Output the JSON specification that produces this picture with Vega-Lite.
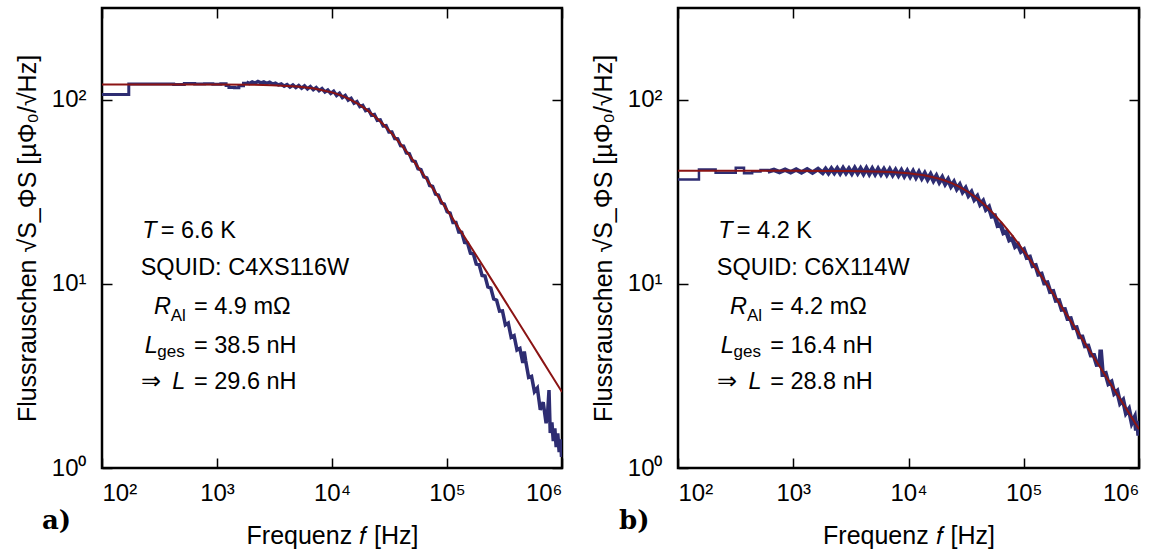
{
  "$schema": "https://vega.github.io/schema/vega-lite/v6.json",
  "padding": {"left": 14, "top": 6, "right": 0, "bottom": 0},
  "background": "white",
  "bounds": "flush",
  "spacing": 116,
  "config": {
    "view": {"stroke": "black", "strokeWidth": 2.5},
    "font": "Liberation Sans",
    "axis": {
      "domain": false,
      "grid": false,
      "ticks": true,
      "tickColor": "black",
      "tickWidth": 1.5,
      "tickSize": -10,
      "labelFont": "Liberation Sans",
      "labelFontSize": 24,
      "labelColor": "black",
      "titleFont": "Liberation Sans",
      "titleFontSize": 25,
      "titleFontWeight": "normal",
      "titleColor": "black"
    }
  },
  "datasets": {
    "steps": [
      {"panel":"a","f":100,"v":107},{"panel":"a","f":171,"v":122},{"panel":"a","f":420,"v":121.5},{"panel":"a","f":520,"v":122.8},{"panel":"a","f":640,"v":122},{"panel":"a","f":780,"v":122.6},{"panel":"a","f":920,"v":121.8},{"panel":"a","f":1080,"v":122.5},{"panel":"a","f":1200,"v":120},{"panel":"a","f":1270,"v":117},{"panel":"a","f":1420,"v":116.5},{"panel":"a","f":1550,"v":119.5},{"panel":"a","f":1700,"v":123.5},{"panel":"a","f":1800,"v":125},
      {"panel":"b","f":100,"v":37},{"panel":"b","f":152,"v":41.9},{"panel":"b","f":212,"v":40.2},{"panel":"b","f":317,"v":42.8},{"panel":"b","f":374,"v":40},{"panel":"b","f":440,"v":40.9},{"panel":"b","f":520,"v":41.6},{"panel":"b","f":600,"v":40.8}
    ],
    "noise": [
      {"panel":"a","f":1800,"v":125},{"panel":"a","f":1908,"v":123},{"panel":"a","f":2022,"v":125.3},{"panel":"a","f":2144,"v":123.5},{"panel":"a","f":2272,"v":126.2},{"panel":"a","f":2409,"v":124},{"panel":"a","f":2553,"v":125.5},{"panel":"a","f":2706,"v":123},{"panel":"a","f":2869,"v":124.8},{"panel":"a","f":3041,"v":122},{"panel":"a","f":3223,"v":123.5},{"panel":"a","f":3417,"v":120.8},{"panel":"a","f":3622,"v":122.2},{"panel":"a","f":3839,"v":119},{"panel":"a","f":4069,"v":121.2},{"panel":"a","f":4313,"v":117.6},{"panel":"a","f":4572,"v":120.6},{"panel":"a","f":4847,"v":116.8},{"panel":"a","f":5137,"v":120},{"panel":"a","f":5446,"v":115.9},{"panel":"a","f":5772,"v":119.3},{"panel":"a","f":6119,"v":114.9},{"panel":"a","f":6486,"v":118.2},{"panel":"a","f":6875,"v":113.8},{"panel":"a","f":7288,"v":116.8},{"panel":"a","f":7725,"v":112.3},{"panel":"a","f":8188,"v":115.2},{"panel":"a","f":8680,"v":110.5},{"panel":"a","f":9200,"v":113.3},{"panel":"a","f":9752,"v":108.6},{"panel":"a","f":10337,"v":111.5},{"panel":"a","f":10958,"v":105.9},{"panel":"a","f":11615,"v":108.8},{"panel":"a","f":12312,"v":103.1},{"panel":"a","f":13051,"v":105.7},{"panel":"a","f":13834,"v":99.9},{"panel":"a","f":14664,"v":102.1},{"panel":"a","f":15544,"v":96.1},{"panel":"a","f":16476,"v":98},{"panel":"a","f":17465,"v":92.1},{"panel":"a","f":18513,"v":93.5},{"panel":"a","f":19624,"v":87.5},{"panel":"a","f":20801,"v":88.6},{"panel":"a","f":22049,"v":82.7},{"panel":"a","f":23372,"v":83.4},{"panel":"a","f":24775,"v":77.6},{"panel":"a","f":26261,"v":78},{"panel":"a","f":27837,"v":72.3},{"panel":"a","f":29507,"v":72.5},{"panel":"a","f":31277,"v":67},{"panel":"a","f":33154,"v":67},{"panel":"a","f":35143,"v":61.7},{"panel":"a","f":37252,"v":61.5},{"panel":"a","f":39487,"v":56.5},{"panel":"a","f":41856,"v":56.2},{"panel":"a","f":44367,"v":51.5},{"panel":"a","f":47029,"v":51.1},{"panel":"a","f":49851,"v":46.7},{"panel":"a","f":52842,"v":46.3},{"panel":"a","f":56013,"v":42.3},{"panel":"a","f":59373,"v":41.8},{"panel":"a","f":62936,"v":38.2},{"panel":"a","f":66712,"v":37.7},{"panel":"a","f":70715,"v":34.3},{"panel":"a","f":74958,"v":33.9},{"panel":"a","f":79455,"v":30.8},{"panel":"a","f":84222,"v":30.4},{"panel":"a","f":89276,"v":27.6},{"panel":"a","f":94632,"v":27.2},{"panel":"a","f":100310,"v":24.7},{"panel":"a","f":106329,"v":24.3},{"panel":"a","f":112709,"v":21.6},{"panel":"a","f":119471,"v":21.6},{"panel":"a","f":126640,"v":19.15},{"panel":"a","f":134238,"v":19.1},{"panel":"a","f":142292,"v":16.8},{"panel":"a","f":150830,"v":16.7},{"panel":"a","f":159880,"v":14.7},{"panel":"a","f":169473,"v":14.6},{"panel":"a","f":179641,"v":12.84},{"panel":"a","f":190419,"v":12.73},{"panel":"a","f":201845,"v":11.13},{"panel":"a","f":213955,"v":11.04},{"panel":"a","f":226793,"v":9.64},{"panel":"a","f":240400,"v":9.5},{"panel":"a","f":254824,"v":8.3},{"panel":"a","f":270114,"v":8.16},{"panel":"a","f":286320,"v":7.12},{"panel":"a","f":303500,"v":7.15},{"panel":"a","f":321710,"v":5.99},{"panel":"a","f":341012,"v":6.13},{"panel":"a","f":361473,"v":5.13},{"panel":"a","f":383161,"v":5.24},{"panel":"a","f":406150,"v":4.38},{"panel":"a","f":430519,"v":4.47},{"panel":"a","f":456350,"v":3.72},{"panel":"a","f":470000,"v":4.3},{"panel":"a","f":483731,"v":3.81},{"panel":"a","f":512755,"v":3.11},{"panel":"a","f":543520,"v":3.15},{"panel":"a","f":576131,"v":2.6},{"panel":"a","f":610699,"v":2.72},{"panel":"a","f":647341,"v":2.07},{"panel":"a","f":686181,"v":2.28},{"panel":"a","f":727352,"v":1.75},{"panel":"a","f":750000,"v":2},{"panel":"a","f":770993,"v":2.65},{"panel":"a","f":790000,"v":1.55},{"panel":"a","f":817253,"v":1.77},{"panel":"a","f":840000,"v":1.4},{"panel":"a","f":866288,"v":1.64},{"panel":"a","f":890000,"v":1.3},{"panel":"a","f":918265,"v":1.54},{"panel":"a","f":945000,"v":1.22},{"panel":"a","f":973361,"v":1.43},{"panel":"a","f":990000,"v":1.15},{"panel":"a","f":1000000,"v":1.35},
      {"panel":"b","f":600,"v":40.8},{"panel":"b","f":680,"v":41.7},{"panel":"b","f":760,"v":40.6},{"panel":"b","f":850,"v":41.8},{"panel":"b","f":950,"v":40.5},{"panel":"b","f":1060,"v":41.9},{"panel":"b","f":1180,"v":40.4},{"panel":"b","f":1320,"v":42},{"panel":"b","f":1470,"v":40.3},{"panel":"b","f":1640,"v":42.1},{"panel":"b","f":1800,"v":40.2},{"panel":"b","f":1908,"v":42.2},{"panel":"b","f":2022,"v":40.1},{"panel":"b","f":2144,"v":42.3},{"panel":"b","f":2272,"v":40.2},{"panel":"b","f":2409,"v":42.4},{"panel":"b","f":2553,"v":40},{"panel":"b","f":2706,"v":42.5},{"panel":"b","f":2869,"v":40.1},{"panel":"b","f":3041,"v":42.3},{"panel":"b","f":3223,"v":39.9},{"panel":"b","f":3417,"v":42.6},{"panel":"b","f":3622,"v":40},{"panel":"b","f":3839,"v":42.4},{"panel":"b","f":4069,"v":39.8},{"panel":"b","f":4313,"v":42.5},{"panel":"b","f":4572,"v":39.7},{"panel":"b","f":4847,"v":42.3},{"panel":"b","f":5137,"v":39.6},{"panel":"b","f":5446,"v":42.2},{"panel":"b","f":5772,"v":39.6},{"panel":"b","f":6119,"v":42},{"panel":"b","f":6486,"v":39.4},{"panel":"b","f":6875,"v":41.9},{"panel":"b","f":7288,"v":39.2},{"panel":"b","f":7725,"v":41.6},{"panel":"b","f":8188,"v":39},{"panel":"b","f":8680,"v":41.4},{"panel":"b","f":9200,"v":38.7},{"panel":"b","f":9752,"v":41.1},{"panel":"b","f":10337,"v":38.4},{"panel":"b","f":10958,"v":40.9},{"panel":"b","f":11615,"v":38},{"panel":"b","f":12312,"v":40.5},{"panel":"b","f":13051,"v":37.6},{"panel":"b","f":13834,"v":39.9},{"panel":"b","f":14664,"v":37.1},{"panel":"b","f":15544,"v":39.4},{"panel":"b","f":16476,"v":36.5},{"panel":"b","f":17465,"v":38.7},{"panel":"b","f":18513,"v":35.8},{"panel":"b","f":19624,"v":37.9},{"panel":"b","f":20801,"v":35},{"panel":"b","f":22049,"v":37},{"panel":"b","f":23372,"v":34},{"panel":"b","f":24775,"v":35.8},{"panel":"b","f":26261,"v":32.9},{"panel":"b","f":27837,"v":34.6},{"panel":"b","f":29507,"v":31.7},{"panel":"b","f":31277,"v":33.2},{"panel":"b","f":33154,"v":30.3},{"panel":"b","f":35143,"v":31.6},{"panel":"b","f":37252,"v":28.8},{"panel":"b","f":39487,"v":30},{"panel":"b","f":41856,"v":27.1},{"panel":"b","f":44367,"v":28.2},{"panel":"b","f":47029,"v":25.4},{"panel":"b","f":49851,"v":26.2},{"panel":"b","f":52842,"v":23.3},{"panel":"b","f":56013,"v":23.5},{"panel":"b","f":59373,"v":20.8},{"panel":"b","f":62936,"v":21.1},{"panel":"b","f":66712,"v":18.93},{"panel":"b","f":70715,"v":19.25},{"panel":"b","f":74958,"v":17.33},{"panel":"b","f":79455,"v":17.67},{"panel":"b","f":84222,"v":15.95},{"panel":"b","f":89276,"v":16.39},{"panel":"b","f":94632,"v":15},{"panel":"b","f":100310,"v":15.4},{"panel":"b","f":106329,"v":13.92},{"panel":"b","f":112709,"v":14.03},{"panel":"b","f":119471,"v":12.54},{"panel":"b","f":126640,"v":12.64},{"panel":"b","f":134238,"v":11.28},{"panel":"b","f":142292,"v":11.35},{"panel":"b","f":150830,"v":10.13},{"panel":"b","f":159880,"v":10.18},{"panel":"b","f":169473,"v":9.07},{"panel":"b","f":179641,"v":9.12},{"panel":"b","f":190419,"v":8.12},{"panel":"b","f":201845,"v":8.15},{"panel":"b","f":213955,"v":7.26},{"panel":"b","f":226793,"v":7.28},{"panel":"b","f":240400,"v":6.48},{"panel":"b","f":254824,"v":6.5},{"panel":"b","f":270114,"v":5.78},{"panel":"b","f":286320,"v":5.8},{"panel":"b","f":303500,"v":5.16},{"panel":"b","f":321710,"v":5.17},{"panel":"b","f":341012,"v":4.6},{"panel":"b","f":361473,"v":4.61},{"panel":"b","f":383161,"v":4.1},{"panel":"b","f":406150,"v":4.1},{"panel":"b","f":430519,"v":3.65},{"panel":"b","f":456350,"v":3.66},{"panel":"b","f":465000,"v":4.4},{"panel":"b","f":483731,"v":3.24},{"panel":"b","f":512755,"v":3.27},{"panel":"b","f":543520,"v":2.87},{"panel":"b","f":576131,"v":2.94},{"panel":"b","f":610699,"v":2.54},{"panel":"b","f":647341,"v":2.62},{"panel":"b","f":686181,"v":2.25},{"panel":"b","f":727352,"v":2.34},{"panel":"b","f":770993,"v":1.99},{"panel":"b","f":817253,"v":2.09},{"panel":"b","f":866288,"v":1.76},{"panel":"b","f":918265,"v":1.89},{"panel":"b","f":945000,"v":1.6},{"panel":"b","f":973361,"v":1.8},{"panel":"b","f":990000,"v":1.5},{"panel":"b","f":1000000,"v":1.7}
    ],
    "fit": [
      {"panel":"a","f":100,"v":121.5},{"panel":"a","f":1000,"v":121.4},{"panel":"a","f":2000,"v":121},{"panel":"a","f":3000,"v":120.3},{"panel":"a","f":5000,"v":118.3},{"panel":"a","f":7000,"v":115.4},{"panel":"a","f":10000,"v":110},{"panel":"a","f":12000,"v":105.9},{"panel":"a","f":14000,"v":101.5},{"panel":"a","f":17000,"v":95},{"panel":"a","f":20000,"v":88.6},{"panel":"a","f":24000,"v":80.65},{"panel":"a","f":28000,"v":73.6},{"panel":"a","f":33000,"v":65.9},{"panel":"a","f":40000,"v":57.1},{"panel":"a","f":47000,"v":50.15},{"panel":"a","f":56000,"v":43.2},{"panel":"a","f":66000,"v":37.3},{"panel":"a","f":80000,"v":31.26},{"panel":"a","f":95000,"v":26.58},{"panel":"a","f":110000,"v":23.1},{"panel":"a","f":135000,"v":18.94},{"panel":"a","f":160000,"v":16.03},{"panel":"a","f":190000,"v":13.54},{"panel":"a","f":220000,"v":11.71},{"panel":"a","f":270000,"v":9.555},{"panel":"a","f":320000,"v":8.07},{"panel":"a","f":380000,"v":6.8},{"panel":"a","f":450000,"v":5.745},{"panel":"a","f":540000,"v":4.789},{"panel":"a","f":650000,"v":3.98},{"panel":"a","f":800000,"v":3.234},{"panel":"a","f":1000000,"v":2.587},
      {"panel":"b","f":100,"v":41.2},{"panel":"b","f":1000,"v":41.19},{"panel":"b","f":2000,"v":41.15},{"panel":"b","f":3000,"v":41.08},{"panel":"b","f":5000,"v":40.87},{"panel":"b","f":7000,"v":40.57},{"panel":"b","f":10000,"v":39.94},{"panel":"b","f":12000,"v":39.42},{"panel":"b","f":14000,"v":38.83},{"panel":"b","f":17000,"v":37.84},{"panel":"b","f":20000,"v":36.76},{"panel":"b","f":24000,"v":35.21},{"panel":"b","f":28000,"v":33.61},{"panel":"b","f":33000,"v":31.62},{"panel":"b","f":40000,"v":28.95},{"panel":"b","f":47000,"v":26.51},{"panel":"b","f":56000,"v":23.75},{"panel":"b","f":66000,"v":21.16},{"panel":"b","f":80000,"v":18.24},{"panel":"b","f":95000,"v":15.82},{"panel":"b","f":110000,"v":13.92},{"panel":"b","f":135000,"v":11.57},{"panel":"b","f":160000,"v":9.875},{"panel":"b","f":190000,"v":8.386},{"panel":"b","f":220000,"v":7.28},{"panel":"b","f":270000,"v":5.964},{"panel":"b","f":320000,"v":5.047},{"panel":"b","f":380000,"v":4.26},{"panel":"b","f":450000,"v":3.603},{"panel":"b","f":540000,"v":3.006},{"panel":"b","f":650000,"v":2.499},{"panel":"b","f":800000,"v":2.032},{"panel":"b","f":1000000,"v":1.626}
    ],
    "roman": [
      {"panel":"a","f":324,"v":19.44,"text":"= 6.6 K"},
      {"panel":"a","f":217,"v":12.18,"text":"SQUID: C4XS116W"},
      {"panel":"a","f":631,"v":7.54,"text":"= 4.9 mΩ"},
      {"panel":"a","f":631,"v":4.63,"text":"= 38.5 nH"},
      {"panel":"a","f":217,"v":2.92,"text":"⇒"},
      {"panel":"a","f":631,"v":2.92,"text":"= 29.6 nH"},
      {"panel":"b","f":324,"v":19.44,"text":"= 4.2 K"},
      {"panel":"b","f":217,"v":12.18,"text":"SQUID: C6X114W"},
      {"panel":"b","f":631,"v":7.54,"text":"= 4.2 mΩ"},
      {"panel":"b","f":631,"v":4.63,"text":"= 16.4 nH"},
      {"panel":"b","f":217,"v":2.92,"text":"⇒"},
      {"panel":"b","f":631,"v":2.92,"text":"= 28.8 nH"}
    ],
    "italic": [
      {"panel":"a","f":224,"v":19.44,"text":"T"},
      {"panel":"a","f":283,"v":7.54,"text":"R"},
      {"panel":"a","f":235,"v":4.63,"text":"L"},
      {"panel":"a","f":409,"v":2.92,"text":"L"},
      {"panel":"b","f":224,"v":19.44,"text":"T"},
      {"panel":"b","f":283,"v":7.54,"text":"R"},
      {"panel":"b","f":235,"v":4.63,"text":"L"},
      {"panel":"b","f":409,"v":2.92,"text":"L"}
    ],
    "sub": [
      {"panel":"a","f":396,"v":6.74,"text":"Al"},
      {"panel":"a","f":303,"v":4.25,"text":"ges"},
      {"panel":"b","f":396,"v":6.74,"text":"Al"},
      {"panel":"b","f":303,"v":4.25,"text":"ges"}
    ]
  },
  "hconcat": [
    {
      "width": 460,
      "height": 460,
      "title": {"text": "a)", "orient": "bottom", "anchor": "start", "frame": "group", "font": "DejaVu Serif", "fontWeight": "bold", "fontSize": 26, "color": "black", "dx": -60, "dy": -40, "offset": 0},
      "resolve": {"axis": {"x": "independent", "y": "independent"}},
      "layer": [
        {
          "data": {"name": "noise"},
          "transform": [{"filter": "datum.panel === 'a'"}],
          "mark": {"type": "line", "color": "#2e2d72", "strokeWidth": 3.5, "clip": true},
          "encoding": {
            "x": {"field": "f", "type": "quantitative", "scale": {"type": "log", "domain": [100, 1000000], "nice": false},
                  "axis": {"orient": "bottom", "values": [100, 1000, 10000, 100000, 1000000], "labelExpr": "'10' + ['⁰','¹','²','³','⁴','⁵','⁶'][round(log(datum.value)/LN10)]", "labelPadding": 23, "labelFlush": 5, "title": "Frequenz 𝑓 [Hz]", "titlePadding": 18}},
            "y": {"field": "v", "type": "quantitative", "scale": {"type": "log", "domain": [1, 316.2], "nice": false},
                  "axis": {"orient": "left", "values": [1, 10, 100], "labelExpr": "'10' + ['⁰','¹','²','³','⁴','⁵','⁶'][round(log(datum.value)/LN10)]", "labelPadding": 26, "title": "Flussrauschen √S_ΦS [µΦ₀/√Hz]", "titlePadding": 11}}
          }
        },
        {
          "data": {"name": "steps"},
          "transform": [{"filter": "datum.panel === 'a'"}],
          "mark": {"type": "line", "color": "#2e2d72", "strokeWidth": 3, "interpolate": "step-after", "clip": true},
          "encoding": {
            "x": {"field": "f", "type": "quantitative", "scale": {"type": "log", "domain": [100, 1000000], "nice": false}, "axis": null},
            "y": {"field": "v", "type": "quantitative", "scale": {"type": "log", "domain": [1, 316.2], "nice": false}, "axis": null}
          }
        },
        {
          "data": {"name": "fit"},
          "transform": [{"filter": "datum.panel === 'a'"}],
          "mark": {"type": "line", "color": "#8b1414", "strokeWidth": 2, "clip": true},
          "encoding": {
            "x": {"field": "f", "type": "quantitative", "scale": {"type": "log", "domain": [100, 1000000], "nice": false},
                  "axis": {"orient": "top", "values": [100, 1000, 10000, 100000, 1000000], "labels": false, "title": null}},
            "y": {"field": "v", "type": "quantitative", "scale": {"type": "log", "domain": [1, 316.2], "nice": false},
                  "axis": {"orient": "right", "values": [1, 10, 100], "labels": false, "title": null}}
          }
        },
        {
          "data": {"name": "roman"},
          "transform": [{"filter": "datum.panel === 'a'"}],
          "mark": {"type": "text", "align": "left", "baseline": "middle", "fontSize": 23.5, "font": "Liberation Sans", "color": "black"},
          "encoding": {
            "x": {"field": "f", "type": "quantitative", "scale": {"type": "log", "domain": [100, 1000000], "nice": false}, "axis": null},
            "y": {"field": "v", "type": "quantitative", "scale": {"type": "log", "domain": [1, 316.2], "nice": false}, "axis": null},
            "text": {"field": "text"}
          }
        },
        {
          "data": {"name": "italic"},
          "transform": [{"filter": "datum.panel === 'a'"}],
          "mark": {"type": "text", "align": "left", "baseline": "middle", "fontSize": 23.5, "font": "Liberation Sans", "fontStyle": "italic", "color": "black"},
          "encoding": {
            "x": {"field": "f", "type": "quantitative", "scale": {"type": "log", "domain": [100, 1000000], "nice": false}, "axis": null},
            "y": {"field": "v", "type": "quantitative", "scale": {"type": "log", "domain": [1, 316.2], "nice": false}, "axis": null},
            "text": {"field": "text"}
          }
        },
        {
          "data": {"name": "sub"},
          "transform": [{"filter": "datum.panel === 'a'"}],
          "mark": {"type": "text", "align": "left", "baseline": "middle", "fontSize": 17, "font": "Liberation Sans", "color": "black"},
          "encoding": {
            "x": {"field": "f", "type": "quantitative", "scale": {"type": "log", "domain": [100, 1000000], "nice": false}, "axis": null},
            "y": {"field": "v", "type": "quantitative", "scale": {"type": "log", "domain": [1, 316.2], "nice": false}, "axis": null},
            "text": {"field": "text"}
          }
        }
      ]
    },
    {
      "width": 461,
      "height": 460,
      "title": {"text": "b)", "orient": "bottom", "anchor": "start", "frame": "group", "font": "DejaVu Serif", "fontWeight": "bold", "fontSize": 26, "color": "black", "dx": -59, "dy": -40, "offset": 0},
      "resolve": {"axis": {"x": "independent", "y": "independent"}},
      "layer": [
        {
          "data": {"name": "noise"},
          "transform": [{"filter": "datum.panel === 'b'"}],
          "mark": {"type": "line", "color": "#2e2d72", "strokeWidth": 4.5, "clip": true},
          "encoding": {
            "x": {"field": "f", "type": "quantitative", "scale": {"type": "log", "domain": [100, 1000000], "nice": false},
                  "axis": {"orient": "bottom", "values": [100, 1000, 10000, 100000, 1000000], "labelExpr": "'10' + ['⁰','¹','²','³','⁴','⁵','⁶'][round(log(datum.value)/LN10)]", "labelPadding": 23, "labelFlush": 5, "title": "Frequenz 𝑓 [Hz]", "titlePadding": 18}},
            "y": {"field": "v", "type": "quantitative", "scale": {"type": "log", "domain": [1, 316.2], "nice": false},
                  "axis": {"orient": "left", "values": [1, 10, 100], "labelExpr": "'10' + ['⁰','¹','²','³','⁴','⁵','⁶'][round(log(datum.value)/LN10)]", "labelPadding": 26, "title": "Flussrauschen √S_ΦS [µΦ₀/√Hz]", "titlePadding": 11}}
          }
        },
        {
          "data": {"name": "steps"},
          "transform": [{"filter": "datum.panel === 'b'"}],
          "mark": {"type": "line", "color": "#2e2d72", "strokeWidth": 2.5, "interpolate": "step-after", "clip": true},
          "encoding": {
            "x": {"field": "f", "type": "quantitative", "scale": {"type": "log", "domain": [100, 1000000], "nice": false}, "axis": null},
            "y": {"field": "v", "type": "quantitative", "scale": {"type": "log", "domain": [1, 316.2], "nice": false}, "axis": null}
          }
        },
        {
          "data": {"name": "fit"},
          "transform": [{"filter": "datum.panel === 'b'"}],
          "mark": {"type": "line", "color": "#8b1414", "strokeWidth": 2, "clip": true},
          "encoding": {
            "x": {"field": "f", "type": "quantitative", "scale": {"type": "log", "domain": [100, 1000000], "nice": false},
                  "axis": {"orient": "top", "values": [100, 1000, 10000, 100000, 1000000], "labels": false, "title": null}},
            "y": {"field": "v", "type": "quantitative", "scale": {"type": "log", "domain": [1, 316.2], "nice": false},
                  "axis": {"orient": "right", "values": [1, 10, 100], "labels": false, "title": null}}
          }
        },
        {
          "data": {"name": "roman"},
          "transform": [{"filter": "datum.panel === 'b'"}],
          "mark": {"type": "text", "align": "left", "baseline": "middle", "fontSize": 23.5, "font": "Liberation Sans", "color": "black"},
          "encoding": {
            "x": {"field": "f", "type": "quantitative", "scale": {"type": "log", "domain": [100, 1000000], "nice": false}, "axis": null},
            "y": {"field": "v", "type": "quantitative", "scale": {"type": "log", "domain": [1, 316.2], "nice": false}, "axis": null},
            "text": {"field": "text"}
          }
        },
        {
          "data": {"name": "italic"},
          "transform": [{"filter": "datum.panel === 'b'"}],
          "mark": {"type": "text", "align": "left", "baseline": "middle", "fontSize": 23.5, "font": "Liberation Sans", "fontStyle": "italic", "color": "black"},
          "encoding": {
            "x": {"field": "f", "type": "quantitative", "scale": {"type": "log", "domain": [100, 1000000], "nice": false}, "axis": null},
            "y": {"field": "v", "type": "quantitative", "scale": {"type": "log", "domain": [1, 316.2], "nice": false}, "axis": null},
            "text": {"field": "text"}
          }
        },
        {
          "data": {"name": "sub"},
          "transform": [{"filter": "datum.panel === 'b'"}],
          "mark": {"type": "text", "align": "left", "baseline": "middle", "fontSize": 17, "font": "Liberation Sans", "color": "black"},
          "encoding": {
            "x": {"field": "f", "type": "quantitative", "scale": {"type": "log", "domain": [100, 1000000], "nice": false}, "axis": null},
            "y": {"field": "v", "type": "quantitative", "scale": {"type": "log", "domain": [1, 316.2], "nice": false}, "axis": null},
            "text": {"field": "text"}
          }
        }
      ]
    }
  ]
}
